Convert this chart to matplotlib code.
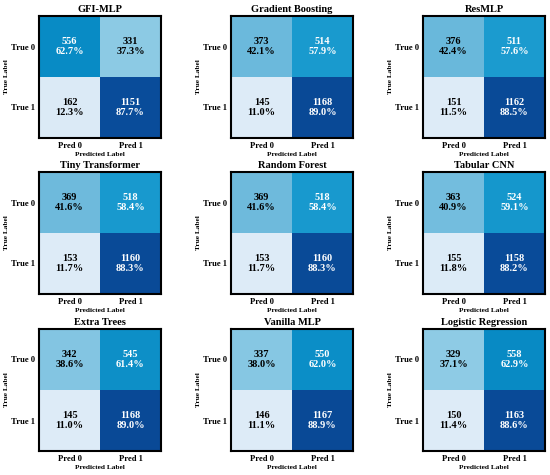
import numpy as np
import matplotlib.pyplot as plt
from matplotlib.colors import LinearSegmentedColormap

plt.rcParams['font.family'] = ['Liberation Serif', 'DejaVu Serif']
plt.rcParams['font.weight'] = 'bold'

models = ["GFI-MLP", "Gradient Boosting", "ResMLP",
          "Tiny Transformer", "Random Forest", "Tabular CNN",
          "Extra Trees", "Vanilla MLP", "Logistic Regression"]

cm_gfi = [[556, 331], [162, 1151]]
cm_gb = [[373, 514], [145, 1168]]
cm_res = [[376, 511], [151, 1162]]
cm_tiny = [[369, 518], [153, 1160]]
cm_rf = [[369, 518], [153, 1160]]
cm_cnn = [[363, 524], [155, 1158]]
cm_et = [[342, 545], [145, 1168]]
cm_mlp = [[337, 550], [146, 1167]]
cm_lr = [[329, 558], [150, 1163]]
matrices = [cm_gfi, cm_gb, cm_res, cm_tiny, cm_rf, cm_cnn, cm_et, cm_mlp, cm_lr]

x_ticks = ["Pred 0", "Pred 1"]
y_ticks = ["True 0", "True 1"]

cmap = LinearSegmentedColormap.from_list("cm_blues", [
    (0.0, "#f0f6fc"), (0.12, "#dcebf7"), (0.37, "#8ecbe5"), (0.42, "#6bb9dc"),
    (0.58, "#1a9bcf"), (0.63, "#088bc5"), (0.88, "#0a4c9a"), (1.0, "#08306b")])

W, H = 550, 475
fig = plt.figure(figsize=(W / 100, H / 100), dpi=100)

lefts = [39, 231, 423]
tops = [16, 172, 329]
size = 122

for k, (name, cm) in enumerate(zip(models, matrices)):
    r, c = divmod(k, 3)
    ax = fig.add_axes([lefts[c] / W, 1 - (tops[r] + size) / H, size / W, size / H])
    cm = np.array(cm)
    pct = cm / cm.sum(axis=1, keepdims=True)
    ax.imshow(pct, cmap=cmap, vmin=0, vmax=1, aspect="auto")
    for i in range(2):
        for j in range(2):
            color = "white" if pct[i, j] > 0.5 else "black"
            ax.text(j, i, f"{cm[i, j]}\n{pct[i, j] * 100:.1f}%", ha="center", va="center",
                    fontsize=7.5, color=color, fontweight="bold", linespacing=1.1)
    ax.set_xticks([0, 1])
    ax.set_xticklabels(x_ticks, fontsize=6.2)
    ax.set_yticks([0, 1])
    ax.set_yticklabels(y_ticks, fontsize=6.2)
    ax.tick_params(length=0, pad=3)
    ax.set_xlabel("Predicted Label", fontsize=5.3, fontweight="bold", labelpad=1)
    ax.set_ylabel("True Label", fontsize=5.3, fontweight="bold", labelpad=1.5)
    ax.set_title(name, fontsize=7.5, fontweight="bold", pad=3)
    for s in ax.spines.values():
        s.set_linewidth(1.5)

fig.savefig("out.png", dpi=100)
